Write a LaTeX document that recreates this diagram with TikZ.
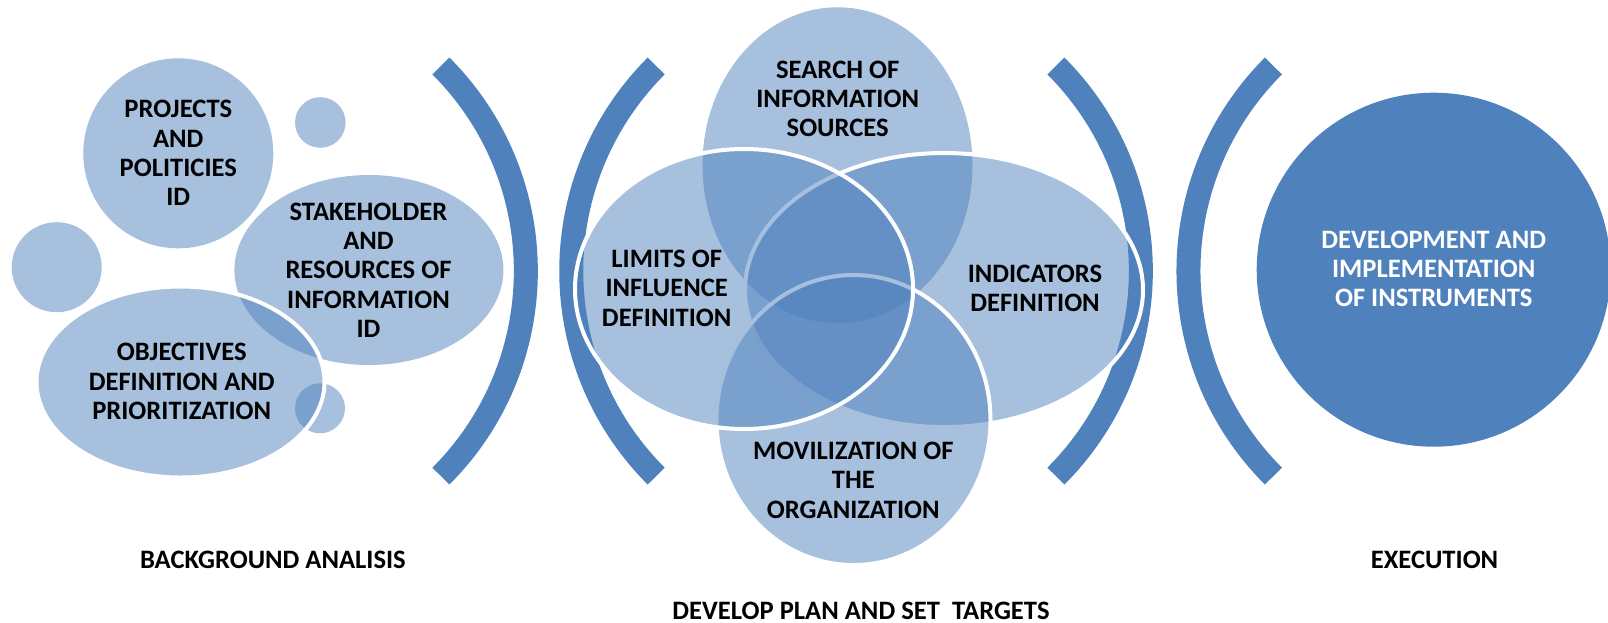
\documentclass[tikz,border=0pt]{standalone}
\usepackage{fontspec}
\setmainfont{Carlito}
\definecolor{acc}{HTML}{4F81BD}
\begin{document}
\begin{tikzpicture}[x=1pt,y=-1pt,
  blob/.style={fill=acc, fill opacity=0.5},
  rim/.style={blob, draw=white, line width=4pt},
  arcbar/.style={draw=acc, line width=24pt},
  lbl/.style={font=\bfseries\fontsize{26.6}{29.3}\selectfont, align=center, inner sep=0pt, text=black},
  lblw/.style={lbl, text=white}]
\useasboundingbox (0,0) rectangle (1608,622);
\clip (0,0) rectangle (1608,622);

% brackets
\draw[arcbar] (440.9,476.1) arc[start angle=45, end angle=-45, radius=290];
\draw[arcbar] (656.2,476.1) arc[start angle=135, end angle=225, radius=290];
\draw[arcbar] (1055.9,476.1) arc[start angle=45, end angle=-45, radius=290];
\draw[arcbar] (1273.4,476.1) arc[start angle=135, end angle=225, radius=290];

% background analysis group
\coordinate (proj) at (178.3,153.3);
\coordinate (stake) at (368.9,270);
\coordinate (obj) at (180.5,382);
\fill[blob] (proj) circle[radius=95];
\fill[blob] (320.3,122.5) circle[radius=25.3];
\fill[blob] (56.7,267.2) circle[radius=45];
\fill[blob] (320,408.3) circle[radius=25];
\fill[blob] (stake) ellipse[x radius=134.5, y radius=95];
\path[rim] (obj) ellipse[x radius=144, y radius=95.5];

% venn group
\coordinate (search) at (837.5,165.3);
\coordinate (indic) at (944,290);
\coordinate (movil) at (853.5,420);
\coordinate (limits) at (744,289);
\fill[blob] (search) ellipse[x radius=135, y radius=158];
\path[rim] (indic) ellipse[x radius=199, y radius=137];
\path[rim] (movil) ellipse[x radius=137, y radius=145];
\path[rim] (limits) ellipse[x radius=169, y radius=140];

% execution
\coordinate (exec) at (1433.7,269.7);
\fill[acc] (exec) circle[radius=177];

% texts
\node[lbl] (tproj) at (178.3,153) {PROJECTS\\AND\\POLITICIES\\ID};
\node[lbl] (tstake) at (368.5,270) {STAKEHOLDER\\AND\\RESOURCES OF\\INFORMATION\\ID};
\node[lbl] (tobj) at (181.7,381.5) {OBJECTIVES\\DEFINITION AND\\PRIORITIZATION};
\node[lbl] (tbg) at (272.9,559.7) {BACKGROUND ANALISIS};
\node[lbl] (tsearch) at (837.7,98.8) {SEARCH OF\\INFORMATION\\SOURCES};
\node[lbl] (tlimits) at (666.7,288.2) {LIMITS OF\\INFLUENCE\\DEFINITION};
\node[lbl] (tindic) at (1035,288.3) {INDICATORS\\DEFINITION};
\node[lbl] (tmovil) at (853.3,480.3) {MOVILIZATION OF\\THE\\ORGANIZATION};
\node[lbl] (tplan) at (861,611) {DEVELOP PLAN AND SET\ \ TARGETS};
\node[lblw] (texec) at (1433.7,268.8) {DEVELOPMENT AND\\IMPLEMENTATION\\OF INSTRUMENTS};
\node[lbl] (texlbl) at (1434.5,559.7) {EXECUTION};
\end{tikzpicture}
\end{document}
